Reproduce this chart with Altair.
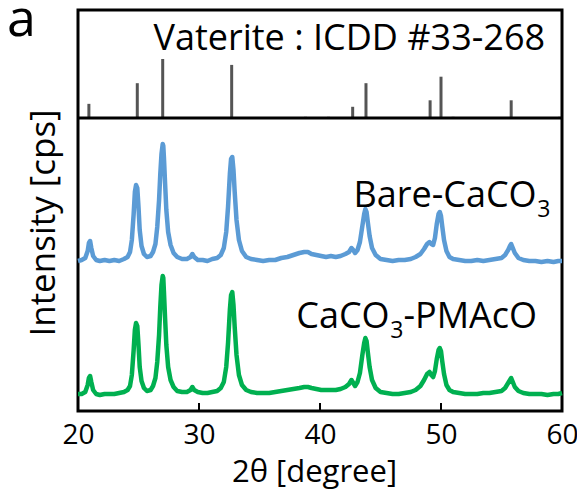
import altair as alt
import pandas as pd

# ---------------- data ----------------
# Vaterite reference pattern (ICDD #33-268): 2theta and relative intensity
ref_pos = [20.9, 24.9, 27.0, 32.7, 38.8, 40.7, 42.7, 43.8, 49.1, 50.0, 51.0, 55.8, 59.8]
ref_int = [24, 59, 100, 90, 2, 2, 19, 59, 30, 70, 2, 30, 2]

# measured patterns (2theta grid shared by both series)
two_theta = [20.0, 20.3, 20.6, 20.8, 20.9, 21.0, 21.1, 21.25, 21.5, 21.8, 22.2, 22.6, 23.0, 23.4, 23.8,
             24.1, 24.3, 24.45, 24.6, 24.7, 24.8, 24.9, 25.0, 25.1, 25.25, 25.45, 25.7, 26.0, 26.2, 26.4,
             26.55, 26.7, 26.8, 26.9, 27.0, 27.05, 27.1, 27.2, 27.3, 27.45, 27.65, 27.9, 28.2, 28.6, 29.0,
             29.3, 29.45, 29.6, 29.9, 30.3, 30.7, 31.1, 31.5, 31.8, 32.05, 32.25, 32.4, 32.55, 32.65, 32.75,
             32.85, 32.95, 33.1, 33.3, 33.55, 33.9, 34.3, 34.8, 35.3, 35.8, 36.3, 36.8, 37.3, 37.8, 38.3,
             38.7, 39.0, 39.3, 39.7, 40.1, 40.5, 40.9, 41.3, 41.7, 42.1, 42.4, 42.6, 42.75, 42.9, 43.1,
             43.3, 43.5, 43.65, 43.75, 43.85, 43.95, 44.1, 44.3, 44.6, 45.0, 45.5, 46.0, 46.5, 47.0, 47.5,
             47.9, 48.3, 48.6, 48.85, 49.05, 49.2, 49.35, 49.5, 49.65, 49.8, 49.9, 50.0, 50.1, 50.25, 50.45,
             50.7, 51.0, 51.5, 52.0, 52.5, 53.0, 53.5, 54.0, 54.5, 55.0, 55.3, 55.55, 55.7, 55.8, 55.9,
             56.1, 56.4, 56.8, 57.3, 57.8, 58.3, 58.8, 59.3, 59.7, 60.0]

bare_int = [1, 2, 4, 11, 19, 21, 14, 6, 2, 1, 2, 1, 2, 1, 3,
            5, 10, 22, 48, 70, 77, 74, 55, 32, 16, 8, 5, 6, 10, 18,
            35, 62, 88, 108, 118, 116, 105, 78, 52, 30, 17, 9, 5, 3, 3,
            5, 8, 5, 2, 2, 1, 3, 4, 7, 14, 30, 55, 88, 103, 105,
            92, 70, 42, 22, 11, 5, 3, 2, 1, 2, 2, 4, 5, 7, 9,
            10, 10, 8, 7, 6, 5, 6, 5, 6, 8, 10, 14, 12, 9, 12,
            20, 36, 48, 53, 50, 40, 26, 14, 7, 3, 2, 1, 2, 2, 3,
            5, 8, 13, 18, 20, 18, 17, 24, 38, 48, 50, 46, 36, 22, 11,
            5, 3, 2, 1, 1, 2, 1, 2, 3, 4, 7, 12, 16, 18, 15,
            9, 4, 2, 1, 1, 0, 1, 0, 1, 1]

pmaco_int = [1, 1, 3, 10, 17, 19, 13, 5, 1, 0, 1, 1, 1, 2, 3,
             5, 9, 20, 45, 65, 72, 69, 50, 28, 14, 7, 4, 5, 9, 17,
             33, 60, 88, 110, 119, 117, 104, 76, 50, 28, 15, 8, 4, 3, 3,
             5, 8, 5, 3, 2, 2, 3, 4, 7, 13, 28, 52, 85, 100, 103,
             90, 68, 40, 20, 10, 5, 3, 2, 2, 2, 3, 4, 5, 6, 7,
             8, 8, 7, 6, 5, 5, 5, 5, 6, 8, 11, 15, 12, 9, 13,
             22, 40, 52, 57, 54, 43, 28, 15, 7, 3, 2, 1, 1, 2, 3,
             5, 9, 15, 21, 23, 20, 18, 24, 36, 45, 47, 44, 34, 21, 10,
             5, 3, 2, 1, 1, 1, 2, 2, 3, 4, 7, 12, 15, 17, 14,
             8, 4, 2, 1, 1, 1, 0, 1, 1, 2]

x_ticks = [20, 30, 40, 50, 60]
inner_ticks = [30, 40, 50]

assert len(two_theta) == len(bare_int) == len(pmaco_int)

# ---------------- layout helpers ----------------
W, H = 484, 401
TOP = 10  # page y of plot top


def band(base_px, k):
    """y-domain so that value 0 sits at page-y base_px with k px per unit."""
    lo = (base_px - TOP - H) / k
    return [lo, lo + H / k]


ref_dom = band(118, 0.59)
bare_dom = band(262, 1.0)
pmaco_dom = band(395, 1.0)

FONT = "Open Sans"


def xenc(field="tt"):
    return alt.X(
        f"{field}:Q",
        scale=alt.Scale(domain=[20, 60], nice=False, zero=False),
        axis=alt.Axis(values=x_ticks, ticks=False, domain=False, grid=False,
                      labelFontSize=28, labelFont=FONT, labelColor="black",
                      labelPadding=10, labelFlush=False,
                      title="2θ [degree]", titleFont=FONT, titleFontSize=31,
                      titleFontWeight="normal", titleColor="black",
                      titleBaseline="alphabetic", titleAlign="center",
                      titleX=236, titleY=70),
        title="2θ [degree]",
    )


def yenc(field, dom):
    return alt.Y(f"{field}:Q", scale=alt.Scale(domain=dom, nice=False, zero=False), axis=None)


ref_df = pd.DataFrame({"tt": ref_pos, "v": ref_int})
pat_df = pd.DataFrame({"tt": two_theta, "bare": bare_int, "pmaco": pmaco_int})

sticks = alt.Chart(ref_df).transform_calculate(base="0").mark_rule(
    color="#555555", strokeWidth=3
).encode(x=xenc(), y=yenc("v", ref_dom), y2="base:Q")

divider = alt.Chart(pd.DataFrame({"v": [0]})).mark_rule(color="black", strokeWidth=3).encode(
    y=yenc("v", ref_dom)
)

bare_line = alt.Chart(pat_df).mark_line(color="#5B9BD5", strokeWidth=4.5, strokeJoin="round").encode(
    x=xenc(), y=yenc("bare", bare_dom)
)
pmaco_line = alt.Chart(pat_df).mark_line(color="#00B050", strokeWidth=4.5, strokeJoin="round").encode(
    x=xenc(), y=yenc("pmaco", pmaco_dom)
)

ticks = alt.Chart(pd.DataFrame({"tt": inner_ticks})).mark_rule(color="black", strokeWidth=2).encode(
    x=xenc(), y=alt.value(H), y2=alt.value(H - 8)
)


def label(text, tt, v, dom, size, align, field="v"):
    df = pd.DataFrame({"tt": [tt], field: [v], "t": [text]})
    return alt.Chart(df).mark_text(
        font=FONT, fontSize=size, align=align, baseline="alphabetic", color="black"
    ).encode(x=xenc(), y=yenc(field, dom), text="t:N")


vat_label = label("Vaterite : ICDD #33-268", 58.6, 115, ref_dom, 36, "right")
bare_a = label("Bare-CaCO", 57.9, 55, bare_dom, 36, "right")
bare_b = label("3", 57.95, 45, bare_dom, 23, "left")
pm_a = label("CaCO", 45.75, 67, pmaco_dom, 36, "right")
pm_b = label("3", 45.8, 57, pmaco_dom, 23, "left")
pm_c = label("-PMAcO", 46.9, 67, pmaco_dom, 36, "left")

ytitle = alt.Chart(pd.DataFrame({"t": ["Intensity [cps]"]})).mark_text(
    font=FONT, fontSize=35, angle=270, align="center", baseline="middle", color="black"
).encode(text="t:N", x=alt.value(-34), y=alt.value(213))

panel_tag = alt.Chart(pd.DataFrame({"t": ["a"]})).mark_text(
    font=FONT, fontSize=52, align="left", baseline="alphabetic", color="black"
).encode(text="t:N", x=alt.value(-71), y=alt.value(26))

chart = alt.layer(
    sticks, divider, bare_line, pmaco_line, ticks,
    vat_label, bare_a, bare_b, pm_a, pm_b, pm_c, ytitle, panel_tag
).resolve_scale(y="independent").properties(
    width=W, height=H,
    padding={"left": 70, "top": 2, "right": 15, "bottom": 80},
    autosize=alt.AutoSizeParams(type="none"),
    background="white",
).configure_view(stroke="black", strokeWidth=3)

chart.save("out.html", embed_options={"renderer": "svg", "actions": False})
